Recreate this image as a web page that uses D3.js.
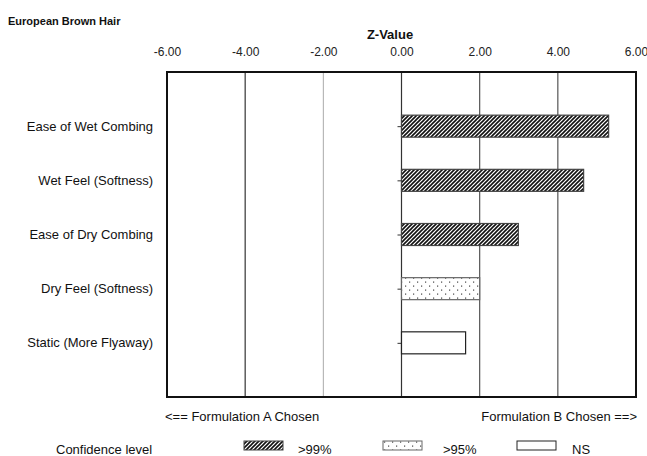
<!DOCTYPE html>
<html>
<head>
<meta charset="utf-8">
<script src="https://cdn.jsdelivr.net/npm/d3@7"></script>
<style>
  html, body { margin: 0; padding: 0; background: #fff; }
  svg { display: block; font-family: "Liberation Sans", Arial, sans-serif; }
</style>
</head>
<body>
<svg id="chart" width="647" height="456"></svg>
<script>
const categories = ["Ease of Wet Combing", "Wet Feel (Softness)", "Ease of Dry Combing", "Dry Feel (Softness)", "Static (More Flyaway)"];
const zValues = [5.30, 4.66, 2.99, 2.00, 1.64];
const confidence = [">99%", ">99%", ">99%", ">95%", "NS"];
const tickValues = [-6, -4, -2, 0, 2, 4, 6];
const legendLevels = [">99%", ">95%", "NS"];

const svg = d3.select("#chart");
const m = { left: 167, right: 636, top: 72, bottom: 397 };

const defs = svg.append("defs");
const hatch = defs.append("pattern").attr("id", "hatch").attr("patternUnits", "userSpaceOnUse")
  .attr("width", 4).attr("height", 4);
hatch.append("rect").attr("width", 4).attr("height", 4).attr("fill", "#fff");
hatch.append("path").attr("d", "M-1,1 l2,-2 M0,4 l4,-4 M3,5 l2,-2")
  .attr("stroke", "#111").attr("stroke-width", 1.6);
const dots = defs.append("pattern").attr("id", "dots").attr("patternUnits", "userSpaceOnUse")
  .attr("width", 8).attr("height", 8);
dots.append("rect").attr("width", 8).attr("height", 8).attr("fill", "#fff");
dots.append("rect").attr("x", 1).attr("y", 1.5).attr("width", 1.2).attr("height", 1.2).attr("fill", "#444");
dots.append("rect").attr("x", 5).attr("y", 5.5).attr("width", 1.2).attr("height", 1.2).attr("fill", "#444");

const fillFor = { ">99%": "url(#hatch)", ">95%": "url(#dots)", "NS": "#fff" };
const strokeFor = { ">99%": "#444", ">95%": "#666", "NS": "#222" };

const x = d3.scaleLinear().domain([-6, 6]).range([m.left, m.right]);
const y = d3.scalePoint().domain(categories).range([m.top, m.bottom]).padding(1);

// titles
svg.append("text").attr("x", 8).attr("y", 25).attr("font-size", 11).attr("font-weight", "bold")
  .attr("fill", "#111").text("European Brown Hair");
svg.append("text").attr("x", 390).attr("y", 39).attr("font-size", 13).attr("font-weight", "bold")
  .attr("text-anchor", "middle").attr("fill", "#111").text("Z-Value");

// grid lines
const gridColor = d => d === -4 || d === 0 ? "#333" : (d === -2 ? "#aaa" : "#555");
svg.append("g").selectAll("line").data(tickValues.filter(d => d > -6 && d < 6)).join("line")
  .attr("x1", d => x(d)).attr("x2", d => x(d)).attr("y1", m.top).attr("y2", m.bottom)
  .attr("stroke", gridColor).attr("stroke-width", d => d === -2 ? 1 : 1.2);

// top axis labels
const xAxis = svg.append("g").attr("transform", "translate(0,52)")
  .call(d3.axisTop(x).tickValues(tickValues).tickFormat(d => d.toFixed(2)).tickSize(0).tickPadding(0));
xAxis.select(".domain").remove();
xAxis.selectAll("text").attr("font-size", 12).attr("fill", "#222")
  .attr("font-family", "'Liberation Sans', Arial, sans-serif").attr("dy", 0).attr("y", 4);

// category axis ticks at zero
const yAxis = svg.append("g").attr("transform", `translate(${x(0)},0)`)
  .call(d3.axisLeft(y).tickSize(4).tickFormat(""));
yAxis.select(".domain").remove();
yAxis.selectAll("line").attr("stroke", "#333");

// category labels
svg.append("g").selectAll("text").data(categories).join("text")
  .attr("x", 153).attr("y", d => y(d)).attr("dy", "0.35em").attr("text-anchor", "end")
  .attr("font-size", 13).attr("fill", "#111").text(d => d);

// bars
const bh = 22;
svg.append("g").selectAll("rect").data(categories).join("rect")
  .attr("x", (d, i) => x(Math.min(0, zValues[i])))
  .attr("y", d => y(d) - bh / 2)
  .attr("width", (d, i) => Math.abs(x(zValues[i]) - x(0)))
  .attr("height", bh)
  .attr("fill", (d, i) => fillFor[confidence[i]])
  .attr("stroke", (d, i) => strokeFor[confidence[i]])
  .attr("stroke-width", 1.2);

// frame
svg.append("rect").attr("x", m.left).attr("y", m.top)
  .attr("width", m.right - m.left).attr("height", m.bottom - m.top)
  .attr("fill", "none").attr("stroke", "#111").attr("stroke-width", 2);

// direction labels
svg.append("text").attr("x", 165).attr("y", 421).attr("font-size", 13).attr("fill", "#111")
  .text("<== Formulation A Chosen");
svg.append("text").attr("x", 637).attr("y", 421).attr("font-size", 13).attr("fill", "#111")
  .attr("text-anchor", "end").text("Formulation B Chosen ==>");

// legend
const ly = 450;
svg.append("text").attr("x", 56).attr("y", ly + 4).attr("font-size", 13).attr("fill", "#111")
  .text("Confidence level");
const legendX = [244, 383, 517];
const legendTextDx = [54, 60, 55];
const lg = svg.append("g").selectAll("g").data(legendLevels).join("g")
  .attr("transform", (d, i) => `translate(${legendX[i]},0)`);
lg.append("rect").attr("x", 0).attr("y", ly - 9).attr("width", 39).attr("height", 9)
  .attr("fill", d => fillFor[d]).attr("stroke", d => strokeFor[d]).attr("stroke-width", 1);
lg.append("text").attr("x", (d, i) => legendTextDx[i]).attr("y", ly + 4).attr("font-size", 13)
  .attr("fill", "#111").text(d => d);
</script>
</body>
</html>
